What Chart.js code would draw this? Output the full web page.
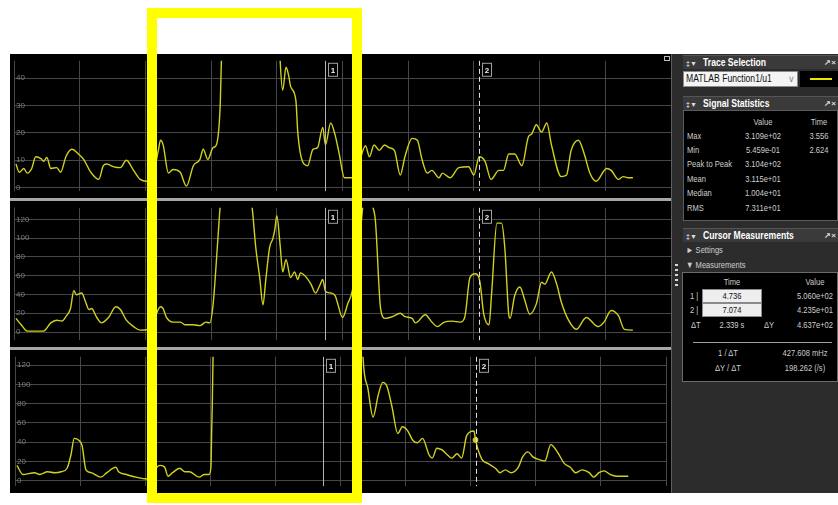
<!DOCTYPE html>
<html>
<head>
<meta charset="utf-8">
<title>Scope</title>
<script src="https://cdn.jsdelivr.net/npm/chart.js@4.4.1/dist/chart.umd.min.js"></script>
<style>
  html, body { margin: 0; padding: 0; background: #fff; }
  body { position: relative; width: 838px; height: 505px; overflow: hidden;
         font-family: "Liberation Sans", Arial, sans-serif; }
  #scope { position: absolute; left: 10px; top: 54px; width: 661px; height: 439px; background: #a6a6a6; }
  .plot { position: absolute; left: 0; background: #000; }
  .plot canvas { display: block; }
  #side { position: absolute; left: 671px; top: 54px; width: 167px; height: 439px; background: #2c2c2c;
          border-left: 1px solid #5e5e5e; box-sizing: border-box; }
  .hdr { position: absolute; left: 683px; width: 155px; height: 13px; background: #3a3a3a; border-top: 1px solid #555;
         color: #fff; font-weight: bold; font-size: 10px; line-height: 13px; white-space: nowrap; }
  .hdr .ic { display: inline-block; width: 17px; padding-left: 3px; font-size: 7px; color: #ddd; }
  .hdr .tx { display: inline-block; transform: scaleX(0.86); transform-origin: left center; }
  .hdr .cl { position: absolute; right: 2px; top: 0; font-size: 8px; color: #ddd; }
  .box { position: absolute; background: #000; border: 1px solid #5c5c5c; box-sizing: border-box; }
  .t { position: absolute; color: #cdcdcd; font-size: 9px; line-height: 12px; height: 12px; white-space: nowrap; }
  .inp { position: absolute; background: #eeeeee; border: 1px solid #8a8a8a; box-sizing: border-box; }
  #mark { position: absolute; left: 147px; top: 8px; width: 215px; height: 495px; border: 10px solid #ffff00;
          box-sizing: border-box; z-index: 10; }
</style>
</head>
<body>
<div id="scope">
  <div class="plot" style="top:0;height:144px;"><canvas id="plotTop" width="661" height="144"></canvas></div>
  <div class="plot" style="top:147px;height:146px;"><canvas id="plotMid" width="661" height="146"></canvas></div>
  <div class="plot" style="top:296px;height:143px;"><canvas id="plotBot" width="661" height="143"></canvas></div>
</div>
<div style="position:absolute;left:664px;top:56px;width:6px;height:5px;border:1px solid #bbb;box-sizing:border-box;"></div>

<div id="side"></div>
<div style="position:absolute;left:675px;top:264px;width:3px;height:22px;background:repeating-linear-gradient(#d8d8d8 0 2px, transparent 2px 5px);"></div>

<div class="hdr" style="top:55px;"><span class="ic">&#8225;&#9660;</span><span class="tx">Trace Selection</span><span class="cl">&#8599;&#215;</span></div>
<div class="inp" style="left:683px;top:71px;width:115px;height:16px;background:#f4f4f4;"></div>
<div class="t" style="left:686px;top:73px;color:#111;font-size:10px;transform:scaleX(0.86);transform-origin:left center;">MATLAB Function1/u1</div>
<div class="t" style="left:788px;top:73px;color:#888;font-size:9px;">&#8744;</div>
<div style="position:absolute;left:800px;top:71px;width:38px;height:16px;background:#000;"></div>
<div style="position:absolute;left:810px;top:78px;width:22px;height:2px;background:#e8e800;"></div>

<div class="hdr" style="top:96px;"><span class="ic">&#8225;&#9660;</span><span class="tx">Signal Statistics</span><span class="cl">&#8599;&#215;</span></div>
<div class="box" style="left:683px;top:110px;width:155px;height:111px;"></div>

<div class="hdr" style="top:228px;"><span class="ic">&#8225;&#9660;</span><span class="tx">Cursor Measurements</span><span class="cl">&#8599;&#215;</span></div>
<div class="box" style="left:682px;top:272px;width:156px;height:110px;border-color:#6a6a6a;"></div>
<div style="position:absolute;left:693px;top:342px;width:139px;height:1px;background:#a0a0a0;"></div>

<div id="mark"></div>

<script>
// selected trace: MATLAB Function1/u1 (top scope)
const topTime = [0.03, 0.08, 0.15, 0.20, 0.27, 0.33, 0.41, 0.45, 0.50, 0.56, 0.65, 0.71, 0.79, 0.88, 0.98, 1.06,
  1.17, 1.29, 1.36, 1.41, 1.52, 1.62, 1.71, 1.82, 1.92, 2.02, 2.12, 2.20, 2.23, 2.27, 2.35, 2.42, 2.53, 2.624,
  2.73, 2.83, 2.88, 2.95, 3.03, 3.08, 3.14, 3.17, 3.30, 3.556, 3.80, 4.00, 4.05, 4.09, 4.14, 4.18, 4.21, 4.29,
  4.32, 4.39, 4.47, 4.55, 4.62, 4.70, 4.74, 4.82, 4.89, 4.95, 5.03, 5.15, 5.24, 5.35, 5.41, 5.48, 5.56, 5.64,
  5.71, 5.79, 5.88, 5.95, 6.06, 6.14, 6.21, 6.29, 6.36, 6.47, 6.52, 6.64, 6.77, 6.92, 7.00, 7.08, 7.17, 7.26,
  7.38, 7.45, 7.53, 7.62, 7.73, 7.83, 7.88, 7.95, 8.03, 8.11, 8.18, 8.33, 8.41, 8.48, 8.59, 8.68, 8.76, 8.86,
  9.02, 9.09, 9.20, 9.27, 9.35, 9.42];
const topValues = [8.6, 5.6, 7.0, 5.3, 7.0, 11.3, 10.6, 9.6, 11.0, 7.0, 7.3, 5.6, 11.3, 14.0, 12.3, 10.3,
  5.6, 3.0, 8.0, 8.6, 7.6, 7.3, 10.0, 6.3, 3.0, 2.3, 5.0, 14.0, 17.3, 15.6, 5.3, 6.6, 5.6, 0.55,
  8.0, 10.3, 14.0, 10.3, 14.6, 15.6, 31.0, 60, 200, 310.9, 200, 80, 47.0, 35.6, 44.0, 41.0, 37.0, 32.0,
  20.0, 9.6, 8.0, 14.0, 14.6, 22.0, 15.6, 23.6, 19.0, 12.3, 3.6, 3.6, 8.0, 15.3, 11.3, 15.6, 13.6, 15.6,
  14.6, 13.6, 4.6, 11.3, 18.0, 17.3, 10.3, 5.3, 6.3, 3.6, 5.3, 3.6, 7.3, 7.6, 4.6, 11.3, 9.6, 3.0,
  6.3, 6.3, 12.3, 12.3, 8.0, 18.6, 19.6, 23.0, 20.3, 23.6, 15.6, 4.0, 4.6, 13.6, 17.3, 12.3, 5.6, 2.3,
  7.0, 6.3, 3.0, 4.0, 3.6, 3.6];

const midTime = [0.03, 0.11, 0.20, 0.45, 0.56, 0.65, 0.73, 0.80, 0.86, 0.91, 0.95, 1.03, 1.09, 1.14, 1.18, 1.26,
  1.33, 1.44, 1.55, 1.62, 1.71, 1.82, 1.92, 2.05, 2.14, 2.23, 2.27, 2.32, 2.42, 2.53, 2.61, 2.73, 2.83, 2.92,
  2.98, 3.03, 3.11, 3.14, 3.30, 3.45, 3.62, 3.68, 3.74, 3.79, 3.83, 3.89, 3.94, 3.97, 4.00, 4.05, 4.09, 4.14,
  4.21, 4.27, 4.32, 4.36, 4.44, 4.52, 4.59, 4.65, 4.70, 4.74, 4.82, 4.89, 4.92, 5.00, 5.08, 5.15, 5.26, 5.35,
  5.45, 5.50, 5.58, 5.65, 5.76, 5.88, 5.95, 6.06, 6.11, 6.26, 6.36, 6.44, 6.55, 6.67, 6.79, 6.86, 6.94, 7.02,
  7.09, 7.15, 7.23, 7.27, 7.35, 7.42, 7.47, 7.53, 7.55, 7.62, 7.70, 7.77, 7.85, 7.95, 8.03, 8.08, 8.18, 8.26,
  8.33, 8.44, 8.56, 8.71, 8.89, 8.98, 9.09, 9.20, 9.29, 9.42];
const midValues = [14.5, 7.7, 1.0, 1.0, 9.7, 12.6, 11.6, 17.4, 25.0, 44.0, 39.6, 41.5, 32.0, 24.0, 25.0, 15.5,
  9.7, 15.5, 27.0, 24.0, 12.6, 5.8, 2.0, 2.9, 15.0, 27.0, 25.0, 15.5, 10.6, 10.6, 7.7, 7.7, 6.8, 10.6,
  9.7, 29.0, 106.0, 135, 180, 170, 135, 90.0, 58.0, 29.0, 54.0, 90.0, 99.5, 109.0, 124.0, 93.0, 64.0, 77.0,
  58.0, 64.0, 56.0, 63.0, 59.0, 51.0, 41.5, 49.0, 56.0, 43.5, 41.5, 38.6, 32.0, 15.5, 30.0, 44.0, 100, 150,
  135, 119.0, 25.0, 14.5, 16.4, 20.0, 16.4, 14.5, 9.7, 18.4, 10.6, 5.8, 10.6, 11.6, 10.6, 15.5, 58.0, 62.0,
  54.0, 19.0, 7.7, 41.5, 116.0, 116.0, 90.0, 19.0, 14.5, 38.6, 48.0, 35.0, 19.0, 30.0, 53.0, 51.0, 64.0, 51.0,
  32.0, 12.6, 2.9, 15.5, 5.8, 10.6, 23.0, 17.4, 2.9, 2.0];

const botTime = [0.03, 0.12, 0.30, 0.38, 0.50, 0.61, 0.71, 0.80, 0.86, 0.91, 0.98, 1.03, 1.09, 1.17, 1.32, 1.41,
  1.55, 1.59, 1.71, 1.86, 2.02, 2.12, 2.23, 2.30, 2.35, 2.42, 2.53, 2.61, 2.68, 2.83, 2.91, 2.98, 3.01, 3.022,
  3.03, 3.045, 3.30, 3.556, 4.00, 4.736, 5.20, 5.35, 5.42, 5.50, 5.58, 5.65, 5.71, 5.79, 5.88, 5.95, 6.03, 6.11,
  6.18, 6.26, 6.36, 6.41, 6.48, 6.56, 6.64, 6.71, 6.79, 6.86, 6.94, 7.05, 7.074, 7.17, 7.27, 7.38, 7.45, 7.53,
  7.62, 7.73, 7.80, 7.88, 7.95, 8.03, 8.14, 8.23, 8.33, 8.44, 8.53, 8.61, 8.71, 8.82, 8.89, 8.97, 9.05, 9.14,
  9.24, 9.42];
const botValues = [16, 6.6, 8.4, 6.6, 9.4, 8.4, 9.4, 13, 27, 44, 42, 36.6, 11.3, 8.4, 3.8, 8.4,
  14, 9.4, 6.6, 3.8, 1.9, 10, 16, 14, 4.7, 8.4, 13, 9.4, 9.4, 3.8, 6.6, 6.6, 14, 55,
  77, 140, 400, 480, 500, 506, 400, 124, 96, 66, 89, 102, 98.5, 77, 49, 56, 52, 42,
  39.4, 44, 27, 23.5, 33.8, 32, 27, 23.5, 28, 23.5, 47, 51.6, 42.35, 22.5, 17.8, 13, 8.4, 11.3,
  8.4, 14, 25, 30, 25, 22.5, 20.6, 37.5, 30, 17.8, 14, 8.4, 11.3, 8.4, 3.8, 8.4, 10.3, 6.6,
  4.7, 4.7];

const cursorLabels = ['1', '2'];
const cursorTimes = [4.736, 7.074];
const cursorValues = [506.0, 42.35];

const statNames = ['Max', 'Min', 'Peak to Peak', 'Mean', 'Median', 'RMS'];
const statValues = ['3.109e+02', '5.459e-01', '3.104e+02', '3.115e+01', '1.004e+01', '7.311e+01'];
const statTimes = ['3.556', '2.624', '', '', '', ''];

const traceColor = '#d2d21e';
const gridColor = '#474747';

Chart.defaults.font.family = '"Liberation Sans", Arial, sans-serif';

const cursorPlugin = {
  id: 'cursors',
  afterDatasetsDraw(chart) {
    const { ctx, chartArea, scales } = chart;
    cursorTimes.forEach((t, i) => {
      const px = Math.round(scales.x.getPixelForValue(t)) + 0.5;
      ctx.save();
      ctx.lineWidth = 1;
      ctx.strokeStyle = i === 0 ? '#b4b4b4' : '#e0e0e0';
      ctx.setLineDash(i === 0 ? [] : [5, 3]);
      ctx.beginPath();
      ctx.moveTo(px, chartArea.top);
      ctx.lineTo(px, chartArea.bottom);
      ctx.stroke();
      ctx.setLineDash([]);
      const bx = px + 3, by = chartArea.top + 2.5;
      ctx.fillStyle = '#000';
      ctx.fillRect(bx, by, 9, 13);
      ctx.strokeStyle = '#a0a0a0';
      ctx.strokeRect(bx, by, 9, 13);
      ctx.fillStyle = '#f0f0f0';
      ctx.font = 'bold 8px "Liberation Sans"';
      ctx.textAlign = 'center';
      ctx.textBaseline = 'middle';
      ctx.fillText(cursorLabels[i], bx + 4.5, by + 7);
      ctx.restore();
    });
  }
};

function scopeChart(id, times, values, yMin, yMax, withDot) {
  const datasets = [{
    data: times.map((t, i) => ({ x: t, y: values[i] })),
    borderColor: traceColor,
    borderWidth: 1.4,
    pointRadius: 0,
    cubicInterpolationMode: 'monotone'
  }];
  if (withDot) {
    datasets.push({
      data: cursorTimes.map((t, i) => ({ x: t, y: cursorValues[i] })),
      showLine: false,
      pointRadius: 2.5,
      pointBackgroundColor: '#c8c81a',
      pointBorderColor: '#c8c81a'
    });
  }
  return new Chart(document.getElementById(id), {
    type: 'line',
    data: { datasets },
    options: {
      responsive: false,
      animation: false,
      events: [],
      layout: { padding: 0 },
      plugins: { legend: { display: false }, tooltip: { enabled: false } },
      scales: {
        x: {
          type: 'linear', min: 0, max: 10,
          ticks: { display: false, stepSize: 1 },
          grid: { color: gridColor, drawTicks: false },
          border: { display: false }
        },
        y: {
          min: yMin, max: yMax,
          ticks: { stepSize: yMax > 100 ? 20 : 10, mirror: true, padding: 2, includeBounds: false,
                   color: '#7e7e7e', font: { size: 8 } },
          grid: { color: gridColor, drawTicks: false },
          border: { display: false }
        }
      }
    },
    plugins: [cursorPlugin]
  });
}

scopeChart('plotTop', topTime, topValues, -1.32, 46.36, false);
scopeChart('plotMid', midTime, midValues, -8.7, 132.3, false);
scopeChart('plotBot', botTime, botValues, -5.6, 128.5, true);

// side panel text
function put(text, x, y, align, extra) {
  const d = document.createElement('div');
  d.className = 't';
  d.textContent = text;
  d.style.top = (y - 6) + 'px';
  d.style.transform = 'scaleX(0.84)';
  if (align === 'c') {
    d.style.left = (x - 40) + 'px';
    d.style.width = '80px';
    d.style.textAlign = 'center';
    d.style.transformOrigin = 'center center';
  } else {
    d.style.left = x + 'px';
    d.style.transformOrigin = 'left center';
  }
  if (extra) Object.assign(d.style, extra);
  document.body.appendChild(d);
  return d;
}

put('Value', 763, 121.5, 'c');
put('Time', 819, 121.5, 'c');
statNames.forEach((name, i) => {
  const y = 135.5 + i * 14.4;
  put(name, 687, y);
  put(statValues[i], 763, y, 'c');
  if (statTimes[i]) put(statTimes[i], 819, y, 'c');
});

put('\u25BA Settings', 686, 250);
put('\u25BC Measurements', 686, 265);
put('Time', 732, 282, 'c');
put('Value', 815, 282, 'c');
cursorTimes.forEach((t, i) => {
  const y = 296 + i * 14;
  put(cursorLabels[i] + ' |', 690, y);
  const inp = document.createElement('div');
  inp.className = 'inp';
  Object.assign(inp.style, { left: '702px', top: (y - 7) + 'px', width: '60px', height: '14px' });
  document.body.appendChild(inp);
  put(t.toFixed(3), 732, y, 'c', { color: '#111' });
  put(cursorValues[i].toExponential(3).replace('e+', 'e+0'), 815, y, 'c');
});
put('\u0394T', 691, 325);
put('2.339 s', 732, 325, 'c');
put('\u0394Y', 764, 325);
put('4.637e+02', 815, 325, 'c');
put('1 / \u0394T', 728, 353, 'c');
put('427.608 mHz', 805, 353, 'c');
put('\u0394Y / \u0394T', 728, 368, 'c');
put('198.262 (/s)', 805, 368, 'c');
</script>
</body>
</html>
